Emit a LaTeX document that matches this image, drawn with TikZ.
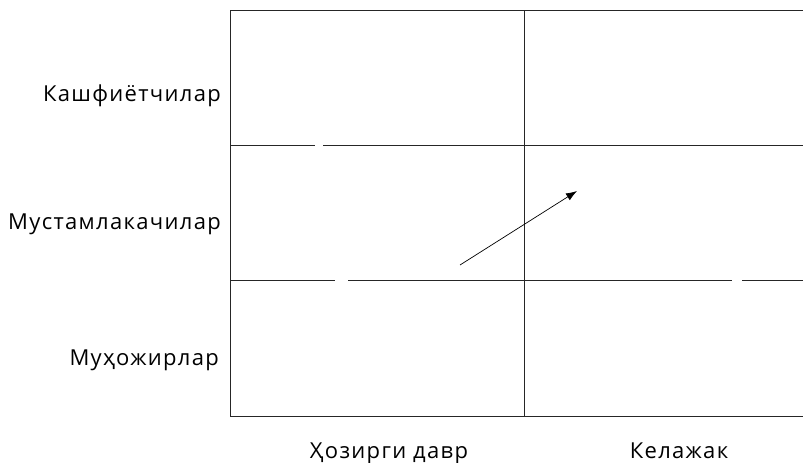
\documentclass[tikz,border=0pt]{standalone}
\usepackage{fontspec}
\setmainfont[LetterSpace=6]{Open Sans}
\usetikzlibrary{arrows.meta,positioning}
\tikzset{
  gridline/.style={line width=0.8pt, draw=black!85},
  rowlabel/.style={anchor=base east, inner sep=0pt, font=\fontsize{22}{26}\selectfont},
  collabel/.style={anchor=base, inner sep=0pt, font=\fontsize{22}{26}\selectfont},
  arr/.style={-{Latex[length=11pt,width=8pt]}, line width=0.7pt}
}
\begin{document}
\begin{tikzpicture}[x=1pt,y=-1pt]
\useasboundingbox (0,0) rectangle (803,463);
% grid corners
\coordinate (tl) at (230,10);
\coordinate (tr) at (803,10);
\coordinate (bl) at (230,416);
\coordinate (br) at (803,416);
\coordinate (mt) at (524,10);
\coordinate (mb) at (524,416);
% frame and middle line
\draw[gridline] (tr) -- (tl) -- (bl) -- (br);
\draw[gridline] (mt) -- (mb);
% row borders, with the gaps of the print
\draw[gridline] (230,145) -- (315,145) (323,145) -- (803,145);
\draw[gridline] (230,280) -- (335,280) (348,280) -- (732,280) (742,280) -- (803,280);
% rows
\node[rowlabel] (kashf) at (221,101) {Кашфиётчилар};
\node[rowlabel] (mustam) at (221,229) {Мустамлакачилар};
\node[rowlabel] (muhoj) at (219,365) {Муҳожирлар};
% columns
\node[collabel] (hozir) at (389,458) {Ҳозирги давр};
\node[collabel] (kelaj) at (679,458) {Келажак};
% shift
\coordinate (from) at (460,265);
\coordinate (to) at (577,191);
\draw[arr] (from) -- (to);
\end{tikzpicture}
\end{document}
